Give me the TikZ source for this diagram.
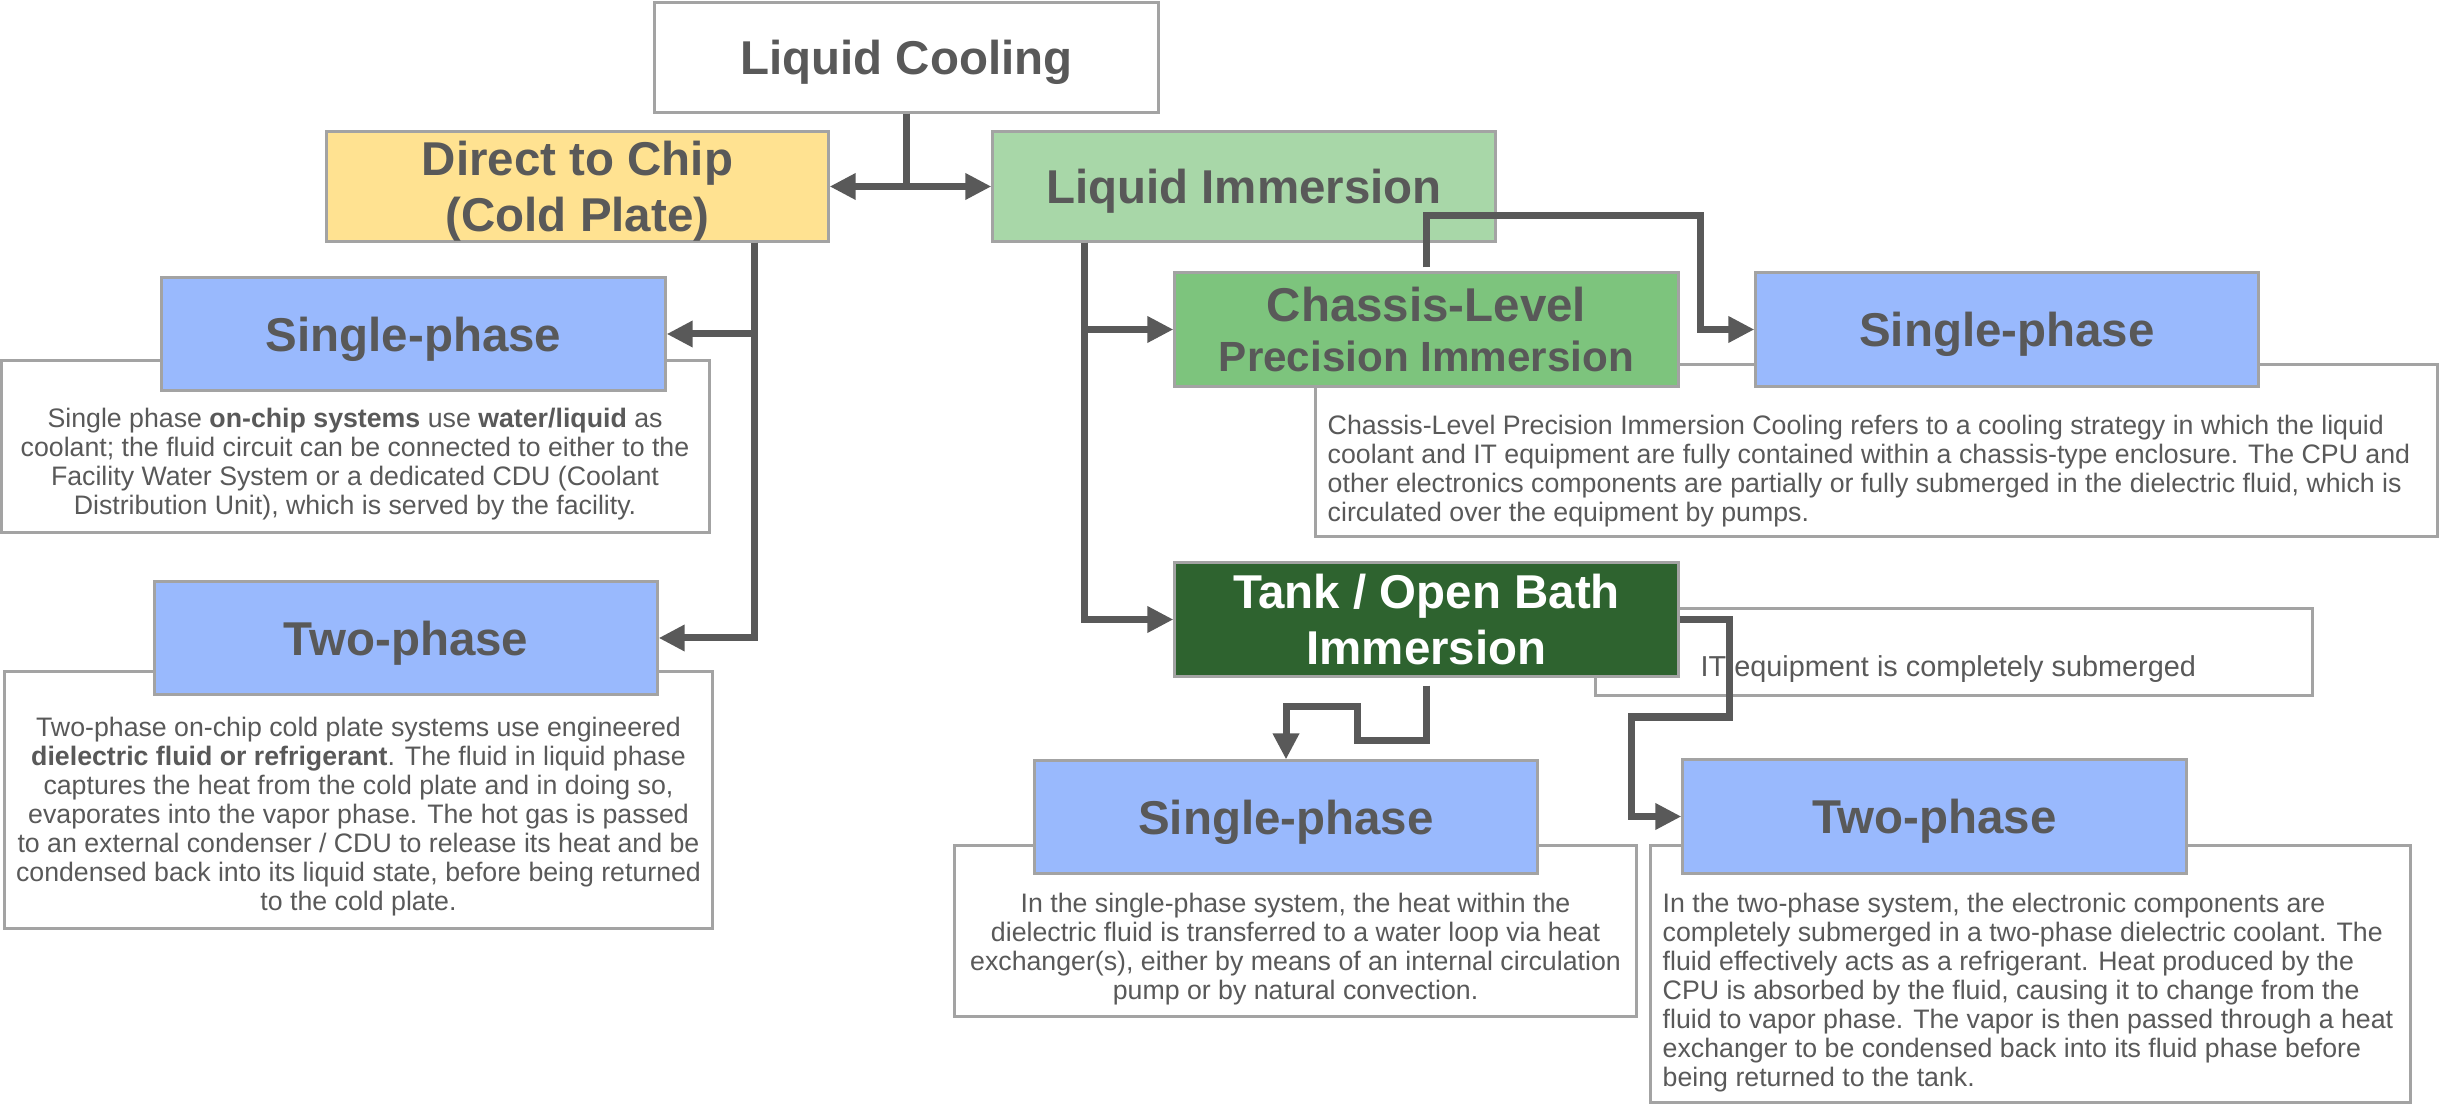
\documentclass[tikz,border=0pt]{standalone}
\usepackage{fontspec}
\setmainfont{Liberation Sans}
\usetikzlibrary{arrows.meta,calc}
\definecolor{yel}{HTML}{FFE291}
\definecolor{lgreen}{HTML}{A8D7A8}
\definecolor{mgreen}{HTML}{7DC47D}
\definecolor{dgreen}{HTML}{2E632F}
\definecolor{bluebox}{HTML}{99B9FD}
\definecolor{bordergray}{HTML}{A3A3A3}
\definecolor{txtgray}{HTML}{595959}
\definecolor{linegray}{HTML}{595959}
\newcommand{\ttlfnt}{\fontsize{13.5}{16.1}\selectfont\bfseries}
\newcommand{\bdyfnt}{\fontsize{7.6}{8.25}\selectfont}
\begin{document}
\begin{tikzpicture}[x=0.01cm,y=-0.01cm,
  descbox/.style={draw=bordergray, line width=0.03cm, fill=white, inner sep=0pt},
  ttlbox/.style={draw=bordergray, line width=0.03cm, text=txtgray, font=\ttlfnt, inner sep=0pt},
  ttlboxml/.style={ttlbox, align=center},
  bodytxt/.style={text=txtgray, font=\bdyfnt, inner sep=0pt},
  conn/.style={draw=linegray, line width=0.07cm, -{Triangle[length=0.26cm,width=0.25cm]}}]
\useasboundingbox (0,0) rectangle (2440,1104);

% description boxes
\node[descbox, minimum width=7.075cm, minimum height=1.71cm] (d1) at (355.3,446.5) {};
\node[descbox, minimum width=7.07cm, minimum height=2.56cm] (d2) at (358.5,800) {};
\node[descbox, minimum width=11.21cm, minimum height=1.71cm] (d3) at (1876.5,450.5) {};
\node[descbox, minimum width=7.16cm, minimum height=0.86cm] (d4) at (1954,652) {};
\node[descbox, minimum width=6.81cm, minimum height=1.70cm] (d5) at (1295.5,931) {};
\node[descbox, minimum width=7.59cm, minimum height=2.56cm] (d6) at (2030.5,974) {};

% title boxes
\node[ttlbox, text depth=0pt, fill=white, minimum width=5.03cm, minimum height=1.09cm] (lc) at (906.5,57.5) {Liquid Cooling};
\node[ttlboxml, text depth=0pt, fill=yel, minimum width=5.01cm, minimum height=1.09cm] (dtc) at (577.5,186.5) {Direct to Chip\\(Cold Plate)};
\node[ttlbox, text depth=0pt, fill=lgreen, minimum width=5.02cm, minimum height=1.09cm] (li) at (1244,186.5) {Liquid Immersion};
\node[ttlbox, text depth=0pt, fill=bluebox, minimum width=5.03cm, minimum height=1.12cm] (sp1) at (413.5,334) {Single-phase};
\node[ttlbox, text depth=0pt, fill=bluebox, minimum width=5.02cm, minimum height=1.12cm] (tp1) at (406,638) {Two-phase};
\node[ttlboxml, fill=mgreen, minimum width=5.03cm, minimum height=1.13cm, font=\fontsize{13.5}{14.2}\selectfont\bfseries] (ch) at (1426.5,329.5) {Chassis-Level\\{\fontsize{12}{14.2}\selectfont Precision Immersion}};
\node[ttlbox, text depth=0pt, fill=bluebox, minimum width=5.02cm, minimum height=1.13cm] (sp2) at (2007,329.5) {Single-phase};
\node[ttlboxml, fill=dgreen, text=white, minimum width=5.03cm, minimum height=1.13cm] (tank) at (1426.5,619.5) {Tank / Open Bath\\Immersion};
\node[ttlbox, text depth=0pt, fill=bluebox, minimum width=5.02cm, minimum height=1.12cm] (sp3) at (1286,817) {Single-phase};
\node[ttlbox, text depth=0pt, fill=bluebox, minimum width=5.03cm, minimum height=1.13cm] (tp3) at (1934.5,816.5) {Two-phase};

% body texts
\node[bodytxt, align=center] (t1) at (355,464) {Single phase \textbf{on-chip systems} use \textbf{water/liquid} as\\coolant; the fluid circuit can be connected to either to the\\Facility Water System or a dedicated CDU (Coolant\\Distribution Unit), which is served by the facility.};
\node[bodytxt, align=center] (t2) at (358.5,816.5) {Two-phase on-chip cold plate systems use engineered\\\textbf{dielectric fluid or refrigerant}. The fluid in liquid phase\\captures the heat from the cold plate and in doing so,\\evaporates into the vapor phase. The hot gas is passed\\to an external condenser / CDU to release its heat and be\\condensed back into its liquid state, before being returned\\to the cold plate.};
\node[bodytxt, align=left, anchor=west] (t3) at (1327,471) {Chassis-Level Precision Immersion Cooling refers to a cooling strategy in which the liquid\\coolant and IT equipment are fully contained within a chassis-type enclosure. The CPU and\\other electronics components are partially or fully submerged in the dielectric fluid, which is\\circulated over the equipment by pumps.};
\node[bodytxt, font=\fontsize{8.2}{9}\selectfont, anchor=base west] (t4) at (1700,677) {IT equipment is completely submerged};
\node[bodytxt, align=center] (t5) at (1295.5,949.5) {In the single-phase system, the heat within the\\dielectric fluid is transferred to a water loop via heat\\exchanger(s), either by means of an internal circulation\\pump or by natural convection.};
\node[bodytxt, align=left, anchor=west] (t6) at (1662,992.5) {In the two-phase system, the electronic components are\\completely submerged in a two-phase dielectric coolant. The\\fluid effectively acts as a refrigerant. Heat produced by the\\CPU is absorbed by the fluid, causing it to change from the\\fluid to vapor phase. The vapor is then passed through a heat\\exchanger to be condensed back into its fluid phase before\\being returned to the tank.};

% connectors
\draw[conn] (lc.south) |- (dtc.east);
\draw[conn] (lc.south) |- (li.west);
\coordinate (dtcdown) at ($(dtc.south east)+(-75,0)$);
\draw[conn] (dtcdown) |- (sp1.east);
\draw[conn] (dtcdown) |- (tp1.east);
\coordinate (lidown) at ($(li.south west)+(93,0)$);
\draw[conn] (lidown) |- (ch.west);
\draw[conn] (lidown) |- (tank.west);
\draw[conn] ($(ch.north)+(0,-4)$) -- ++(0,-52) -- ++(274,0) |- (sp2.west);
\draw[conn] (tank.east) -- ++(50,0) -- ++(0,97.5) -- ++(-98,0) |- (tp3.west);
\draw[conn] ($(tank.south)+(0,8)$) -- ++(0,55) -- ++(-69,0) -- ++(0,-34) -| (sp3.north);
\end{tikzpicture}
\end{document}
